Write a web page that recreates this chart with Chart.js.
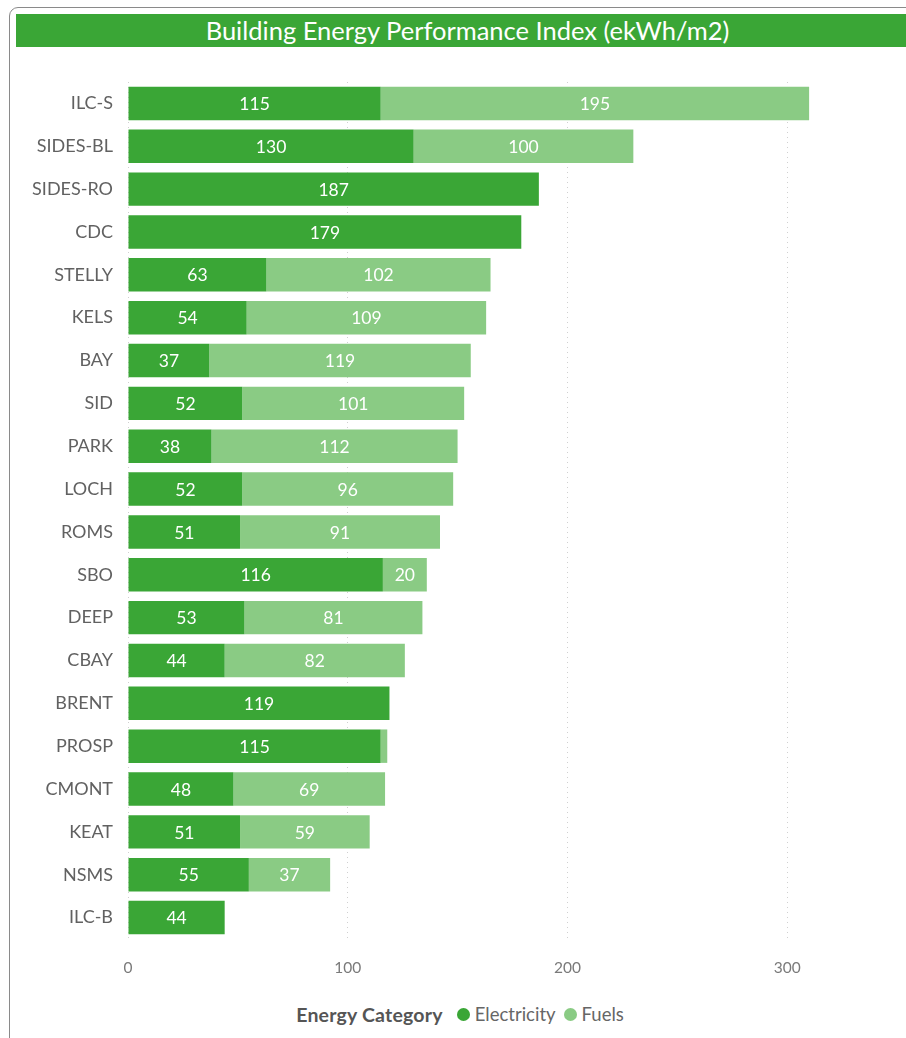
<!DOCTYPE html>
<html>
<head>
<meta charset="utf-8">
<script src="https://cdn.jsdelivr.net/npm/chart.js@4/dist/chart.umd.min.js"></script>
<style>
  html, body { margin: 0; padding: 0; background: #fff; }
  body { width: 906px; height: 1038px; position: relative; overflow: hidden; font-family: Lato, "Open Sans", sans-serif; }
  .card { position: absolute; left: 9px; top: 7px; width: 920px; height: 1060px; border: 1px solid #8a8a8a; border-radius: 9px; box-sizing: border-box; }
  .title { position: absolute; left: 16px; top: 14px; width: 900px; height: 33px; background: #3aa636; color: #fff;
           font-size: 25.5px; line-height: 33px; }
  .title span { position: absolute; left: 0; width: 903px; text-align: center; }
  #wrap { position: absolute; left: 0; top: 0; width: 906px; height: 990px; }
  .legend { position: absolute; top: 1003px; left: 0; width: 906px; height: 22px; display: flex; justify-content: center;
            align-items: center; font-size: 18.5px; color: #666; padding-left: 22px; box-sizing: border-box; }
  .legend b { color: #555; margin-right: 14px; font-weight: 700; font-size: 19.5px; letter-spacing: 0.2px; }
  .legend i { display: inline-block; width: 13px; height: 13px; border-radius: 50%; margin-right: 5px; }
  .legend .it { display: inline-flex; align-items: center; margin-right: 8px; }
</style>
</head>
<body>
<div class="card"></div>
<div class="title"><span>Building Energy Performance Index (ekWh/m2)</span></div>
<div id="wrap"><canvas id="c" width="906" height="990"></canvas></div>
<div class="legend" id="legend"></div>

<script>
// Buildings, ordered by total energy use
const buildings = ['ILC-S', 'SIDES-BL', 'SIDES-RO', 'CDC', 'STELLY', 'KELS', 'BAY', 'SID', 'PARK', 'LOCH',
                   'ROMS', 'SBO', 'DEEP', 'CBAY', 'BRENT', 'PROSP', 'CMONT', 'KEAT', 'NSMS', 'ILC-B'];
// Energy use intensity by category (ekWh/m2)
const electricity = [115, 130, 187, 179, 63, 54, 37, 52, 38, 52, 51, 116, 53, 44, 119, 115, 48, 51, 55, 44];
const fuels       = [195, 100, null, null, 102, 109, 119, 101, 112, 96, 91, 20, 81, 82, null, 3, 69, 59, 37, null];
const xTicks = [0, 100, 200, 300];

const seriesNames = ['Electricity', 'Fuels'];
const seriesColors = ['#3aa636', '#8acb84'];
const fontFamily = 'Lato, "Open Sans", sans-serif';

// Value labels drawn in white at the middle of each segment that is wide enough
const segmentLabels = {
  id: 'segmentLabels',
  afterDatasetsDraw(chart) {
    const ctx = chart.ctx;
    ctx.save();
    ctx.fillStyle = '#ffffff';
    ctx.font = '17.5px ' + fontFamily;
    ctx.textAlign = 'center';
    ctx.textBaseline = 'middle';
    chart.data.datasets.forEach((ds, di) => {
      const meta = chart.getDatasetMeta(di);
      meta.data.forEach((bar, i) => {
        const v = ds.data[i];
        if (v == null) return;
        const w = Math.abs(bar.x - bar.base);
        const txt = String(v);
        if (ctx.measureText(txt).width + 6 > w) return;
        ctx.fillText(txt, (bar.x + bar.base) / 2, bar.y + 1);
      });
    });
    ctx.restore();
  }
};

new Chart(document.getElementById('c'), {
  type: 'bar',
  data: {
    labels: buildings,
    datasets: [
      { label: seriesNames[0], data: electricity, backgroundColor: seriesColors[0], barPercentage: 0.78, categoryPercentage: 1.0 },
      { label: seriesNames[1], data: fuels, backgroundColor: seriesColors[1], barPercentage: 0.78, categoryPercentage: 1.0 }
    ]
  },
  options: {
    indexAxis: 'y',
    responsive: false,
    animation: false,
    layout: { padding: { left: 0, right: 9, top: 82, bottom: 0 } },
    plugins: { legend: { display: false }, title: { display: false }, tooltip: { enabled: false } },
    scales: {
      x: {
        stacked: true,
        min: 0,
        max: 350,
        afterBuildTicks(scale) { scale.ticks = xTicks.map(v => ({ value: v })); },
        afterFit(scale) { scale.height = 51; },
        grid: { color: '#d0d0d0', lineWidth: 1, drawTicks: false, tickLength: 0 },
        border: { display: false, dash: [1, 4] },
        ticks: { color: '#7a7a7a', font: { family: fontFamily, size: 15.5 }, padding: 20 }
      },
      y: {
        stacked: true,
        afterFit(scale) { scale.width = 128; },
        grid: { display: false, drawTicks: false },
        border: { display: false },
        ticks: { color: '#616161', font: { family: fontFamily, size: 18 }, padding: 15 }
      }
    }
  },
  plugins: [segmentLabels]
});

// Legend with its heading on one line
const legend = document.getElementById('legend');
legend.innerHTML = '<b>Energy Category</b>' + seriesNames.map((n, i) =>
  '<span class="it"><i style="background:' + seriesColors[i] + '"></i>' + n + '</span>').join('');
</script>
</body>
</html>
